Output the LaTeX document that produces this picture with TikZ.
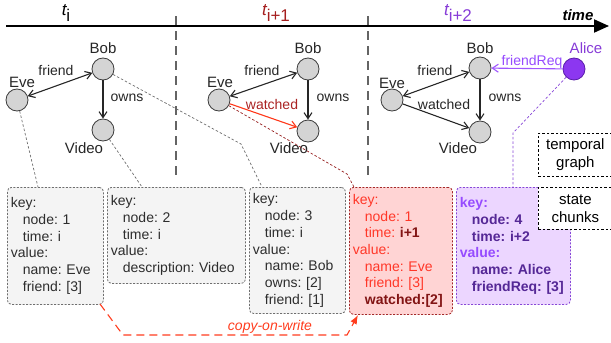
\documentclass[tikz,border=0pt]{standalone}
\usepackage{fontspec}
\setmainfont{Liberation Sans}
\usetikzlibrary{arrows.meta}
\definecolor{sepc}{RGB}{100,100,100}
\definecolor{tred}{RGB}{165,30,30}
\definecolor{tpur}{RGB}{135,60,215}
\definecolor{wred}{RGB}{255,55,25}
\definecolor{wlbl}{RGB}{170,35,35}
\definecolor{alicef}{RGB}{140,55,240}
\definecolor{aliceb}{RGB}{90,30,170}
\definecolor{freq}{RGB}{160,85,255}
\definecolor{gfill}{RGB}{244,244,244}
\definecolor{gbord}{RGB}{110,110,110}
\definecolor{gtxt}{RGB}{45,45,45}
\definecolor{rfill}{RGB}{255,212,212}
\definecolor{rbord}{RGB}{165,40,40}
\definecolor{rtxt}{RGB}{255,55,40}
\definecolor{rdark}{RGB}{130,20,20}
\definecolor{pfill}{RGB}{236,214,255}
\definecolor{pbord}{RGB}{135,70,215}
\definecolor{plight}{RGB}{150,75,255}
\definecolor{pdark}{RGB}{85,40,150}
\definecolor{vfill}{RGB}{212,212,212}
\definecolor{vbord}{RGB}{60,60,60}
\definecolor{cowc}{RGB}{255,60,30}
\definecolor{rconn}{RGB}{150,30,30}
\newcommand\myind{\hspace*{12pt}}
\frenchspacing
\begin{document}
\frenchspacing
\begin{tikzpicture}[x=1pt,y=-1pt,
  vtx/.style={circle, draw=vbord, fill=vfill, minimum size=22pt, inner sep=0pt, line width=0.8pt},
  lbl/.style={font=\fontsize{15}{15}\selectfont, inner sep=0pt, text=black!85},
  elbl/.style={font=\fontsize{14}{14}\selectfont, inner sep=0pt, text=black!85},
  tlbl/.style={font=\fontsize{17}{17}\selectfont, inner sep=0pt},
  edge/.style={line width=1.1pt, draw=black!85, -{Straight Barb[length=6pt,width=8pt]}},
  biedge/.style={line width=1.1pt, draw=black!85, {Straight Barb[length=6pt,width=8pt]}-{Straight Barb[length=6pt,width=8pt]}},
  gconn/.style={draw=gbord, line width=0.7pt, dash pattern=on 2.5pt off 2pt},
  chunk/.style={rounded corners=4pt, line width=0.8pt, dash pattern=on 2pt off 1.5pt, anchor=north west, align=left, inner xsep=3.5pt, inner ysep=0pt, font=\fontsize{14}{16.7}\selectfont\frenchspacing},
  gchunk/.style={chunk, draw=gbord, fill=gfill, text=gtxt},
  legend/.style={draw=black, fill=white, line width=0.8pt, dash pattern=on 2.5pt off 2pt, anchor=north west, align=center, font=\fontsize{15}{18}\selectfont, inner sep=0pt},
  sepline/.style={draw=sepc, line width=2pt, dash pattern=on 9pt off 6pt}
]
\useasboundingbox (0,0) rectangle (611,343);

% timeline
\coordinate (tl0) at (6,26);
\coordinate (tl1) at (609,26);
\draw[line width=2pt, -{Triangle[length=15pt,width=13pt]}] (tl0) -- (tl1);
\node[tlbl] (ti0) at (66,13) {{\itshape t}\raisebox{-6pt}{i}};
\node[tlbl, text=tred] (ti1) at (276,13) {{\itshape t}\raisebox{-6pt}{i+1}};
\node[tlbl, text=tpur] (ti2) at (458,13) {{\itshape t}\raisebox{-6pt}{i+2}};
\node[font=\fontsize{15}{15}\selectfont\bfseries\itshape, inner sep=0pt] (timelbl) at (578,15) {time};

% separators
\coordinate (s1a) at (176,16); \coordinate (s1b) at (176,177);
\coordinate (s2a) at (368,16); \coordinate (s2b) at (368,177);
\draw[sepline] (s1a) -- (s1b);
\draw[sepline] (s2a) -- (s2b);

% graph 1
\node[vtx] (e1) at (17,100) {};
\node[vtx] (b1) at (103,69) {};
\node[vtx] (v1) at (103,130) {};
\node[lbl] (e1l) at (22,82) {Eve};
\node[lbl] (b1l) at (103,48) {Bob};
\node[lbl] (v1l) at (84,148) {Video};
\node[elbl] (f1l) at (56,70) {friend};
\node[elbl] (o1l) at (127,98) {owns};
\draw[biedge] (e1) -- (b1);
\draw[edge] (b1) -- (v1);

% graph 2
\node[vtx] (e2) at (219,100) {};
\node[vtx] (b2) at (308,69) {};
\node[vtx] (v2) at (308,131) {};
\node[lbl] (e2l) at (220,82) {Eve};
\node[lbl] (b2l) at (308,48) {Bob};
\node[lbl] (v2l) at (289,148) {Video};
\node[elbl] (f2l) at (262,70) {friend};
\node[elbl] (o2l) at (333,98) {owns};
\node[elbl, text=wlbl] (w2l) at (272,104) {watched};
\draw[biedge] (e2) -- (b2);
\draw[edge] (b2) -- (v2);
\draw[edge, draw=wred] (e2) -- (v2);

% graph 3
\node[vtx] (e3) at (392,100) {};
\node[vtx] (b3) at (480,68) {};
\node[vtx] (v3) at (480,132) {};
\node[vtx, fill=alicef, draw=aliceb] (a3) at (574,69) {};
\node[lbl] (e3l) at (392,83) {Eve};
\node[lbl] (b3l) at (480,48) {Bob};
\node[lbl] (v3l) at (458,148) {Video};
\node[lbl, text=tpur] (a3l) at (586,48) {Alice};
\node[elbl] (f3l) at (435,70) {friend};
\node[elbl] (o3l) at (505,98) {owns};
\node[elbl] (w3l) at (444,104) {watched};
\node[elbl, text=plight] (r3l) at (532,62) {friendReq};
\draw[biedge] (e3) -- (b3);
\draw[edge] (b3) -- (v3);
\draw[edge] (e3) -- (v3);
\draw[edge, draw=freq] (a3) -- (b3);

% state chunks
\node[gchunk, text width=89pt, minimum height=117pt] (k1) at (7,187)
  {key:\\\myind node: 1\\\myind time: i\\value:\\\myind name: Eve\\\myind friend: [3]};
\node[gchunk, text width=131pt, minimum height=96pt] (k2) at (107,187)
  {key:\\\myind node: 2\\\myind time: i\\value:\\\myind description: Video};
\node[gchunk, text width=89pt, minimum height=126pt] (k3) at (249,187)
  {key:\\\myind node: 3\\\myind time: i\\value:\\\myind name: Bob\\\myind owns: [2]\\\myind friend: [1]};
\node[chunk, draw=rbord, fill=rfill, text=rtxt, text width=96pt, minimum height=127pt] (k4) at (349,187)
  {key:\\\myind node: 1\\\myind time: {\bfseries\color{rdark}i+1}\\value:\\\myind name: Eve\\\myind friend: [3]\\\myind {\bfseries\color{rdark}watched:[2]}};
\node[chunk, draw=pbord, fill=pfill, text=pdark, font=\fontsize{14}{16.7}\selectfont\bfseries\frenchspacing, text width=107pt, minimum height=117pt] (k5) at (456,187)
  {{\color{plight}key:}\\\myind node: 4\\\myind time: i+2\\{\color{plight}value:}\\\myind name: Alice\\\myind friendReq: [3]};

% legend
\node[legend, minimum width=74pt, minimum height=43pt] (lg1) at (538,133) {temporal\\graph};
\node[legend, minimum width=74pt, minimum height=42pt] (lg2) at (538,187) {state\\chunks};

% connectors graph -> chunks
\coordinate (k1t) at (38,187);
\coordinate (k2t) at (142,187);
\coordinate (c3m) at (241,144);
\coordinate (k3t) at (262,187);
\coordinate (c4m) at (347,174);
\coordinate (k4t) at (354,187);
\coordinate (c5m) at (513,133);
\coordinate (k5t) at (513,187);
\draw[gconn] (e1) -- (k1t);
\draw[gconn] (v1) -- (k2t);
\draw[gconn] (b1) -- (c3m) -- (k3t);
\draw[gconn, draw=rconn] (e2) -- (c4m) -- (k4t);
\draw[gconn, draw=pbord] (a3) -- (c5m) -- (k5t);

% copy-on-write
\coordinate (cw0) at (100,304);
\coordinate (cw1) at (123,335);
\coordinate (cw2) at (347,335);
\coordinate (cw3) at (358,315);
\draw[draw=cowc, line width=1.1pt, dash pattern=on 8pt off 5pt, -{Latex[length=9pt,width=7pt]}] (cw0) -- (cw1) -- (cw2) -- (cw3);
\node[font=\fontsize{14}{14}\selectfont\itshape, text=cowc, inner sep=0pt] (cowl) at (270,327) {copy-on-write};
\end{tikzpicture}
\end{document}
